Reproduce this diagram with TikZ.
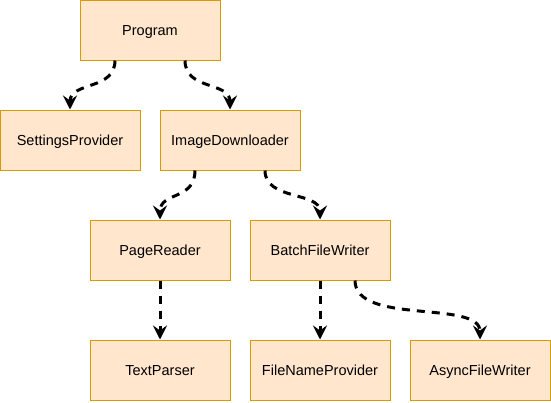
\documentclass[tikz,border=0pt]{standalone}
\usepackage{fontspec}
\setmainfont{Liberation Sans}
\usetikzlibrary{arrows.meta,calc}
\definecolor{boxfill}{HTML}{FFE6CC}
\definecolor{boxdraw}{HTML}{D79B00}
\tikzset{
  cls/.style={draw=boxdraw, fill=boxfill, line width=1pt, minimum width=140pt, minimum height=60pt, inner sep=0pt, text height=11pt, text depth=0pt, font=\fontsize{14.5}{16}\selectfont},
  dep/.style={draw=black, line width=3pt, dash pattern=on 8pt off 7pt, -{Stealth[length=14pt,width=14pt,inset=5pt]}},
}
\begin{document}
\begin{tikzpicture}[x=1pt,y=-1pt]
\useasboundingbox (0,0) rectangle (551,402);
\node[cls] (prog) at (150,30) {Program};
\node[cls] (sett) at (70,140) {SettingsProvider};
\node[cls] (imgd) at (230,140) {ImageDownloader};
\node[cls] (page) at (160,250) {PageReader};
\node[cls] (batch) at (320,250) {BatchFileWriter};
\node[cls] (text) at (160,370) {TextParser};
\node[cls] (fname) at (320,370) {FileNameProvider};
\node[cls] (async) at (480,370) {AsyncFileWriter};
\draw[dep] ([xshift=-35pt]prog.south) .. controls +(0,30) and +(0,-28) .. (sett.north);
\draw[dep] ([xshift=35pt]prog.south) .. controls +(0,30) and +(0,-28) .. (imgd.north);
\draw[dep] ([xshift=-35pt]imgd.south) .. controls +(0,30) and +(0,-28) .. (page.north);
\draw[dep] ([xshift=35pt]imgd.south) .. controls +(0,30) and +(0,-28) .. (batch.north);
\draw[dep] (page.south) -- (text.north);
\draw[dep] (batch.south) -- (fname.north);
\draw[dep] ([xshift=35pt]batch.south) .. controls +(0,45) and +(0,-40) .. (async.north);
\end{tikzpicture}
\end{document}
